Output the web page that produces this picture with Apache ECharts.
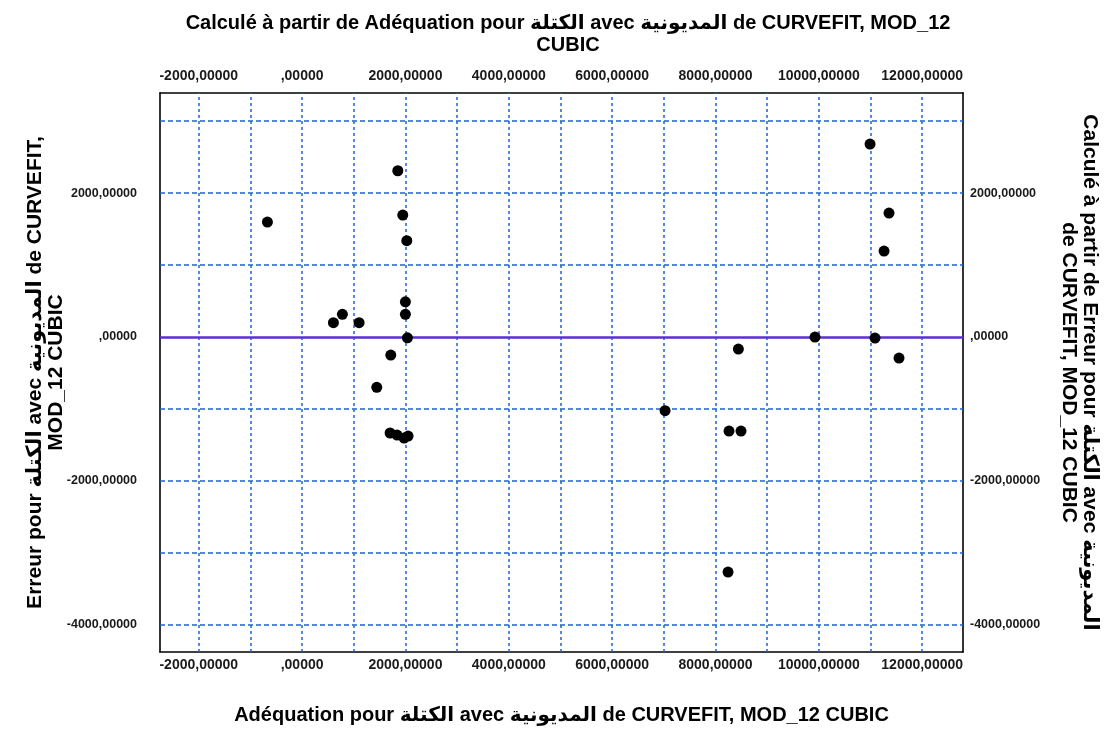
<!DOCTYPE html>
<html>
<head>
<meta charset="utf-8">
<script src="https://cdn.jsdelivr.net/npm/echarts@6/dist/echarts.min.js"></script>
<style>
  html, body { margin: 0; padding: 0; background: #fff; }
  #chart { width: 1106px; height: 731px; }
</style>
</head>
<body>
<div id="chart"></div>
<script>
// Fitted values (x) and residuals (y) of the cubic CURVEFIT model
const fittedValues = [-671, 1852, 1948, 2026, 1999, 1999, 2038, 606, 780, 1103, 1716, 1445,
  1703, 1838, 1974, 2051, 7024, 8262, 8494, 8443, 8243, 9926, 10991, 11358, 11262, 11087, 11552];
const residuals = [1597, 2310, 1694, 1338, 490, 315, -10, 199, 315, 199, -250, -699,
  -1333, -1361, -1403, -1375, -1023, -1306, -1306, -167, -3264, 0, 2681, 1722, 1194, -14, -292];

// Axis extents and grid/tick values
const xRange = [-2750, 12790];
const yRange = [-4375, 3390];
const xGridValues = [-2000, -1000, 0, 1000, 2000, 3000, 4000, 5000, 6000, 7000, 8000, 9000, 10000, 11000, 12000];
const yGridValues = [-4000, -3000, -2000, -1000, 1000, 2000, 3000];
const xLabelValues = [-2000, 0, 2000, 4000, 6000, 8000, 10000, 12000];
const yLabelValues = [-4000, -2000, 0, 2000];
const referenceLine = 0;

const titleText = 'Calculé à partir de Adéquation pour الكتلة avec المديونية de CURVEFIT, MOD_12\nCUBIC';
const xName = 'Adéquation pour الكتلة avec المديونية de CURVEFIT, MOD_12 CUBIC';
const yLeftName = 'Erreur pour الكتلة avec المديونية de CURVEFIT,\nMOD_12 CUBIC';
const yRightName = 'Calculé à partir de Erreur pour الكتلة avec المديونية\nde CURVEFIT, MOD_12 CUBIC';

const FONT = '"Liberation Sans", Arial, "DejaVu Sans", sans-serif';
const GRID_BLUE = '#1f62d8';

function fmt(labelValues) {
  return function (v) {
    const r = Math.round(v);
    if (Math.abs(v - r) > 1e-6 || labelValues.indexOf(r) < 0) return '';
    if (r === 0) return ',00000';
    return r.toFixed(5).replace('.', ',');
  };
}

const xLabelStyle = { fontFamily: FONT, fontWeight: 'bold', fontSize: 14, color: '#1a1a1a' };
const yLabelStyle = { fontFamily: FONT, fontWeight: 'bold', fontSize: 12.5, color: '#1a1a1a' };
const axisLineStyle = { show: true, onZero: false, lineStyle: { color: '#000', width: 1.6 } };
const sideNameStyle = { fontFamily: FONT, fontWeight: 'bold', fontSize: 21, color: '#000', lineHeight: 21 };

function xAxisDef(position, showName) {
  return {
    type: 'value', position: position, min: xRange[0], max: xRange[1], interval: 250,
    axisLine: axisLineStyle, axisTick: { show: false }, splitLine: { show: false },
    axisLabel: Object.assign({ formatter: fmt(xLabelValues), margin: position === 'top' ? 10 : 6 }, xLabelStyle),
    name: showName ? xName : '', nameLocation: 'middle', nameGap: 53,
    nameTextStyle: { fontFamily: FONT, fontWeight: 'bold', fontSize: 20, color: '#000' }
  };
}
function yAxisDef(position, name, rotate, gap) {
  return {
    type: 'value', position: position, min: yRange[0], max: yRange[1], interval: 125,
    axisLine: axisLineStyle, axisTick: { show: false }, splitLine: { show: false },
    axisLabel: Object.assign({ formatter: fmt(yLabelValues), margin: position === 'left' ? 23 : 7 }, yLabelStyle),
    name: name, nameLocation: 'middle', nameGap: gap, nameRotate: rotate, nameMoveOverlap: false,
    nameTextStyle: sideNameStyle
  };
}

const chart = echarts.init(document.getElementById('chart'), null, { renderer: 'canvas' });

const gridLines = []
  .concat(xGridValues.map(v => ({ xAxis: v, lineStyle: { type: [3, 3] } })))
  .concat(yGridValues.map(v => ({ yAxis: v, lineStyle: { type: [5, 3] } })));

chart.setOption({
  backgroundColor: '#fff',
  animation: false,
  title: {
    text: titleText, left: 563, top: 7, textAlign: 'center',
    textStyle: { fontFamily: FONT, fontWeight: 'bold', fontSize: 20, color: '#000', lineHeight: 22 }
  },
  grid: { left: 160, right: 143, top: 93, bottom: 79, containLabel: false, outerBoundsMode: 'none' },
  xAxis: [xAxisDef('bottom', true), xAxisDef('top', false)],
  yAxis: [yAxisDef('left', yLeftName, 90, 93), yAxisDef('right', yRightName, -90, 95)],
  series: [
    {
      type: 'line', data: [], z: 1, silent: true,
      markLine: {
        silent: true, symbol: 'none', label: { show: false }, animation: false,
        lineStyle: { color: GRID_BLUE, width: 1.5 },
        data: gridLines
      }
    },
    {
      type: 'line', data: [], z: 2, silent: true,
      markLine: {
        silent: true, symbol: 'none', label: { show: false }, animation: false,
        lineStyle: { color: '#5a2fd4', width: 2.5, type: 'solid' },
        data: [{ yAxis: referenceLine }]
      }
    },
    {
      type: 'scatter', z: 10,
      symbol: 'circle', symbolSize: 11,
      itemStyle: { color: '#000', opacity: 1 },
      data: fittedValues.map((x, i) => [x, residuals[i]])
    }
  ]
});
</script>
</body>
</html>
